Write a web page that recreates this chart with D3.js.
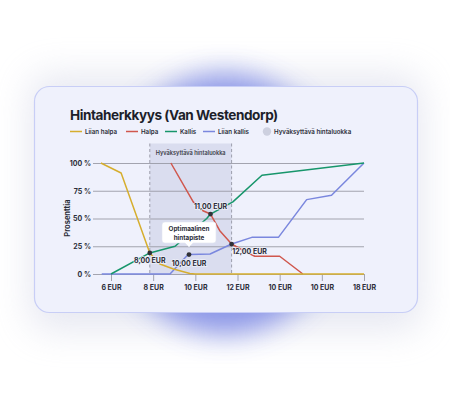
<!DOCTYPE html>
<html lang="fi">
<head>
<meta charset="UTF-8">
<title>Hintaherkkyys</title>
<style>
  body { margin: 0; background: #fff; }
  svg { display: block; font-family: Inter, "Noto Sans", sans-serif; }
</style>
</head>
<body>
<svg width="450" height="400"></svg>
<script src="https://cdn.jsdelivr.net/npm/d3@7"></script>
<script>
  // data (x = tick index, y = percent)
  var xLabels = ['6 EUR', '8 EUR', '10 EUR', '12 EUR', '10 EUR', '10 EUR', '18 EUR'];
  var yTicks = [0, 25, 50, 75, 100];
  var liianHalpa = [[-0.24, 100], [0.24, 91], [0.92, 19], [1.16, 9], [1.48, 4.5], [1.87, 0.5], [2.0, 0], [6, 0]];
  var halpa = [[1.42, 100], [1.95, 65], [2.18, 57], [2.36, 54], [2.58, 39], [2.86, 27], [3.22, 19.5], [3.41, 16], [4.0, 16], [4.55, 0]];
  var kallis = [[0, 0], [0.92, 19], [1.52, 25], [2.27, 50], [2.36, 54], [2.89, 65], [3.58, 89], [6, 100]];
  var liianKallis = [[-0.22, 0], [1.40, 0], [1.80, 16.5], [1.85, 17.5], [2.35, 18], [2.86, 27], [3.34, 33], [3.97, 33], [4.64, 67], [5.23, 71], [6, 100]];
  var pointX = [0.92, 1.85, 2.36, 2.86];
  var pointY = [19, 17.5, 54, 27];
  var pointLabels = ['8,00 EUR', '10,00 EUR', '11,00 EUR', '12,00 EUR'];
  var band = [0.92, 2.86];

  var series = [
    {name: 'Liian halpa', color: '#d6ae2e', data: liianHalpa},
    {name: 'Halpa', color: '#d0574d', data: halpa},
    {name: 'Kallis', color: '#17966b', data: kallis},
    {name: 'Liian kallis', color: '#7a87de', data: liianKallis}
  ];

  var svg = d3.select('svg');
  var defs = svg.append('defs');
  defs.append('filter').attr('id', 'glow').attr('x', '-50%').attr('y', '-50%').attr('width', '200%').attr('height', '200%')
      .append('feGaussianBlur').attr('stdDeviation', 14);
  defs.append('filter').attr('id', 'shadow').attr('x', '-30%').attr('y', '-40%').attr('width', '160%').attr('height', '180%')
      .append('feGaussianBlur').attr('stdDeviation', 18);

  // soft shadow + blue glow behind card
  svg.append('rect').attr('x', 30).attr('y', 75).attr('width', 392).attr('height', 255).attr('rx', 20)
      .attr('fill', '#b9bdd8').attr('opacity', 0.35).attr('filter', 'url(#shadow)');
  svg.append('ellipse').attr('cx', 225).attr('cy', 204).attr('rx', 118).attr('ry', 130)
      .attr('fill', '#7b88e6').attr('opacity', 0.85).attr('filter', 'url(#glow)');
  // card
  svg.append('rect').attr('x', 34.5).attr('y', 86.5).attr('width', 383).attr('height', 226).attr('rx', 15)
      .attr('fill', '#eff1fc').attr('stroke', '#c8cef6').attr('stroke-width', 1.2);

  // title
  svg.append('text').attr('x', 70).attr('y', 119.5).attr('font-size', 13.6).attr('font-weight', 700)
      .attr('letter-spacing', -0.45).attr('fill', '#1d1f2a').text('Hintaherkkyys (Van Westendorp)');

  // legend
  var legendX = [70, 126, 165, 203, 263];
  var leg = svg.append('g').attr('font-size', 6.2).attr('font-weight', 600).attr('fill', '#2b2d38');
  series.forEach(function (s, i) {
    leg.append('line').attr('x1', legendX[i]).attr('x2', legendX[i] + 12).attr('y1', 131.5).attr('y2', 131.5)
        .attr('stroke', s.color).attr('stroke-width', 1.5);
    leg.append('text').attr('x', legendX[i] + 15).attr('y', 133.8).text(s.name);
  });
  leg.append('circle').attr('cx', legendX[4] + 4).attr('cy', 131.5).attr('r', 4.2).attr('fill', '#cdd0df');
  leg.append('text').attr('x', legendX[4] + 11).attr('y', 133.8).text('Hyväksyttävä hintaluokka');

  // scales
  var x = d3.scaleLinear().domain([0, 6]).range([111, 364]);
  var y = d3.scaleLinear().domain([0, 100]).range([274, 163]);

  var g = svg.append('g');

  // acceptable band
  g.append('rect').attr('x', x(band[0])).attr('y', 143.5).attr('width', x(band[1]) - x(band[0])).attr('height', 274 - 143.5)
      .attr('fill', '#d6d9ec').attr('opacity', 0.85);
  band.forEach(function (b) {
    g.append('line').attr('x1', x(b)).attr('x2', x(b)).attr('y1', 143.5).attr('y2', 274)
        .attr('stroke', '#8a8c99').attr('stroke-width', 0.8).attr('stroke-dasharray', '3,2.5');
  });
  g.append('text').attr('x', (x(band[0]) + x(band[1])) / 2).attr('y', 155).attr('text-anchor', 'middle')
      .attr('font-size', 5.6).attr('font-weight', 600).attr('fill', '#3a3c48').text('Hyväksyttävä hintaluokka');

  // y grid + labels
  var yAxis = d3.axisLeft(y).tickValues(yTicks).tickSize(-(364 - 93)).tickFormat(function (d) { return d + ' %'; });
  var ya = g.append('g').attr('transform', 'translate(93,0)').call(yAxis);
  ya.select('.domain').remove();
  ya.selectAll('line').attr('stroke', '#9a9ba6').attr('stroke-width', 0.9);
  ya.selectAll('text').attr('x', -2).attr('font-size', 7).attr('font-weight', 700).attr('fill', '#2b2d38')
      .attr('font-family', 'Inter, sans-serif');

  // x axis
  var xAxis = d3.axisBottom(x).tickValues(d3.range(xLabels.length)).tickSize(7).tickPadding(4)
      .tickFormat(function (d) { return xLabels[d]; });
  var xa = g.append('g').attr('transform', 'translate(0,274)').call(xAxis);
  xa.select('.domain').remove();
  xa.selectAll('line').attr('stroke', '#9a9ba6').attr('stroke-width', 0.9);
  xa.selectAll('text').attr('font-size', 7).attr('font-weight', 700).attr('fill', '#2b2d38')
      .attr('font-family', 'Inter, sans-serif');

  // y title
  g.append('text').attr('transform', 'translate(70,218) rotate(-90)').attr('text-anchor', 'middle')
      .attr('font-size', 7.5).attr('font-weight', 700).attr('fill', '#2b2d38').text('Prosenttia');

  // lines
  var line = d3.line().x(function (d) { return x(d[0]); }).y(function (d) { return y(d[1]); });
  series.slice().reverse().forEach(function (s) {
    g.append('path').attr('d', line(s.data)).attr('fill', 'none')
        .attr('stroke', s.color).attr('stroke-width', 1.5).attr('stroke-linejoin', 'round');
  });

  // callout
  var cx = x(pointX[1]);
  var callout = g.append('g');
  callout.append('path')
      .attr('d', 'M' + (cx - 24) + ',222 h48 a3,3 0 0 1 3,3 v15 a3,3 0 0 1 -3,3 h-20 l-4,4 l-4,-4 h-20 a3,3 0 0 1 -3,-3 v-15 a3,3 0 0 1 3,-3 z')
      .attr('fill', '#ffffff').attr('stroke', '#e3e5f0').attr('stroke-width', 0.6);
  callout.append('text').attr('x', cx).attr('y', 230.5).attr('text-anchor', 'middle').attr('font-size', 6.3)
      .attr('font-weight', 700).attr('fill', '#2b2d38').text('Optimaalinen');
  callout.append('text').attr('x', cx).attr('y', 239.5).attr('text-anchor', 'middle').attr('font-size', 6.3)
      .attr('font-weight', 700).attr('fill', '#2b2d38').text('hintapiste');

  // intersection points
  var labelDx = [0, 0, 0, 18];
  var labelDy = [10, 11, -5, 10];
  pointX.forEach(function (px, i) {
    g.append('circle').attr('cx', x(px)).attr('cy', y(pointY[i])).attr('r', 2.4).attr('fill', '#2f3138');
    g.append('text').attr('x', x(px) + labelDx[i]).attr('y', y(pointY[i]) + labelDy[i]).attr('text-anchor', 'middle')
        .attr('font-size', 7).attr('font-weight', 700).attr('fill', '#2b2d38')
        .attr('paint-order', 'stroke').attr('stroke', '#eef0f9').attr('stroke-width', 1.5).text(pointLabels[i]);
  });
</script>
</body>
</html>
